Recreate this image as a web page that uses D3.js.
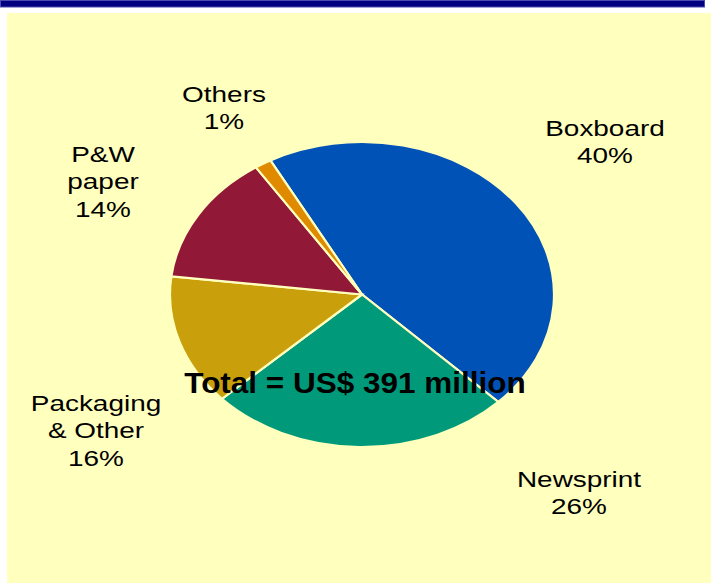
<!DOCTYPE html>
<html>
<head>
<meta charset="utf-8">
<script src="https://cdn.jsdelivr.net/npm/d3@7"></script>
<style>
  html, body { margin: 0; padding: 0; background: #ffffff; }
  svg { display: block; }
  text { font-family: "Liberation Sans", Arial, sans-serif; fill: #000; }
</style>
</head>
<body>
<div id="chart"></div>
<script>
// Paper market split, slice sizes (labels keep the printed %)
const categories = ["Boxboard", "Newsprint", "Packaging & Other", "P&W paper", "Others"];
const sliceValues = [45.4, 25.6, 13.9, 13.8, 1.4];
const labelLines = [
    ["Boxboard", "40%"],
    ["Newsprint", "26%"],
    ["Packaging", "& Other", "16%"],
    ["P&W", "paper", "14%"],
    ["Others", "1%"]
];
const sliceColors = ["#0052b6", "#009a7a", "#c9a00c", "#921838", "#e08a00"];
const totalLabel = "Total = US$ 391 million";

const width = 711, height = 583;

const svg = d3.select("#chart").append("svg")
    .attr("width", width)
    .attr("height", height);

// pale yellow panel and the navy strip above it
svg.append("rect")
    .attr("x", 7).attr("y", 13)
    .attr("width", width - 7).attr("height", height - 13)
    .attr("fill", "#ffffbe");
svg.append("rect")
    .attr("x", 0.5).attr("y", 0.5)
    .attr("width", 704).attr("height", 6.5)
    .attr("fill", "#000080")
    .attr("stroke", "#4b4bb0")
    .attr("stroke-width", 1);

// pie drawn as a circle, squashed into an ellipse
const cx = 362, cy = 294.5, rx = 192, ry = 152.5;
const startDeg = -28.5;

const pie = d3.pie()
    .sort(null)
    .value(d => d)
    .startAngle(startDeg * Math.PI / 180)
    .endAngle((startDeg + 360) * Math.PI / 180);

const arc = d3.arc().innerRadius(0).outerRadius(rx);

const pieGroup = svg.append("g")
    .attr("transform", `translate(${cx},${cy}) scale(1,${ry / rx})`);

pieGroup.selectAll("path")
    .data(pie(sliceValues))
    .join("path")
    .attr("d", arc)
    .attr("fill", (d, i) => sliceColors[i])
    .attr("stroke", "#ffffbe")
    .attr("stroke-width", 2.2)
    .attr("vector-effect", "non-scaling-stroke");

// label anchors (centre x, first baseline)
const labelPos = [
    { x: 605, y: 136 },
    { x: 579, y: 487 },
    { x: 96, y: 411 },
    { x: 103, y: 162 },
    { x: 224, y: 102 }
];
const lineGap = 27.5;
const stretch = 1.27;

labelLines.forEach((lines, i) => {
    const g = svg.append("g")
        .attr("transform", `translate(${labelPos[i].x},${labelPos[i].y}) scale(${stretch},1)`);
    g.selectAll("text")
        .data(lines)
        .join("text")
        .attr("x", 0)
        .attr("y", (d, j) => j * lineGap)
        .attr("text-anchor", "middle")
        .attr("font-size", "22px")
        .text(d => d);
});

svg.append("g")
    .attr("transform", `translate(355,393) scale(1.05,1)`)
    .append("text")
    .attr("text-anchor", "middle")
    .attr("font-size", "30px")
    .attr("font-weight", "bold")
    .text(totalLabel);
</script>
</body>
</html>
